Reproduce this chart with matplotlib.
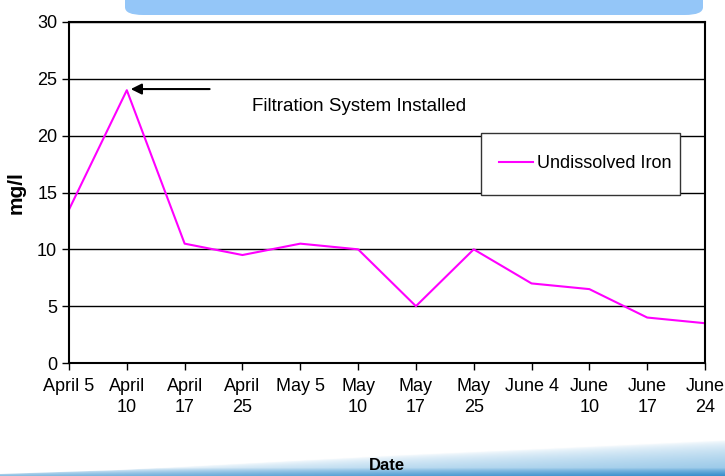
import numpy as np
import matplotlib.pyplot as plt
from matplotlib.patches import FancyBboxPatch, Polygon, Rectangle

plt.rcParams['font.family'] = ['Liberation Sans', 'DejaVu Sans']

dates = ['April 5', 'April\n10', 'April\n17', 'April\n25', 'May 5', 'May\n10',
         'May\n17', 'May\n25', 'June 4', 'June\n10', 'June\n17', 'June\n24']
iron = [13.5, 24, 10.5, 9.5, 10.5, 10, 5, 10, 7, 6.5, 4, 3.5]
yticks = [0, 5, 10, 15, 20, 25, 30]

W, H = 725, 476
fig = plt.figure(figsize=(W / 100, H / 100), dpi=100)

# light blue title box at the top (cut off)
fig.patches.append(FancyBboxPatch((125 / W, 1 - 15 / H), 578 / W, 40 / H,
                                  boxstyle='round,pad=0,rounding_size=0.025',
                                  transform=fig.transFigure, facecolor='#94c6f8',
                                  edgecolor='none', mutation_aspect=H / W))

# bottom gradient band
BH = 38
bg = fig.add_axes([0, 0, 1, BH / H])
bg.set_xlim(0, W)
bg.set_ylim(0, BH)
bg.axis('off')
gx = np.linspace(0, W, 363)
gy = np.linspace(0, BH, 76)
X, Y = np.meshgrid(gx, gy)
edge_x = [0, 120, 250, 400, 555, 725]
edge_y = [2, 6, 13, 21, 28, 36]
edge = np.interp(X, edge_x, edge_y)
d = np.clip(1 - Y / edge, 0, 1)
hx = X / W
blue = np.array([0.55, 0.76, 0.90])
deep = np.array([0.22, 0.56, 0.80])
mix = (d ** 0.6 * (0.55 + 0.45 * hx))[..., None]
col = (1 - mix) * 1.0 + mix * blue
low = (np.clip(1 - Y / 8, 0, 1) ** 0.8 * (0.4 + 0.6 * hx))[..., None]
col = (1 - low) * col + low * deep
img = np.dstack([col, np.ones(X.shape)])
im = bg.imshow(img, extent=[0, W, 0, BH], origin='lower', aspect='auto')
ex = np.linspace(0, W, 60)
ey = np.interp(ex, edge_x, edge_y)
clip = Polygon(np.column_stack([np.r_[ex, W, 0], np.r_[ey, 0, 0]]), closed=True,
               transform=bg.transData, facecolor='none', edgecolor='none')
bg.add_patch(clip)
im.set_clip_path(clip)

ax = fig.add_axes([69 / W, 1 - 363 / H, 636 / W, 341 / H])
x = np.arange(len(dates))
ax.plot(x, iron, color='#ff00ff', lw=1.5, label='Undissolved Iron')
ax.set_xlim(0, len(dates) - 1)
ax.set_ylim(0, 30)
ax.set_yticks(yticks)
ax.set_xticks(x)
ax.set_xticklabels(dates, linespacing=1.25, va='top')
ax.yaxis.grid(True, color='black', lw=1)
ax.set_axisbelow(True)
for s in ax.spines.values():
    s.set_linewidth(1.5)
ax.tick_params(axis='both', labelsize=13, direction='out', length=5, width=1)
ax.tick_params(axis='x', pad=6)
ax.set_ylabel('mg/l', fontsize=15, fontweight='bold', labelpad=8)
fig.text(387 / W, 1 - 466 / H, 'Date', fontsize=12, fontweight='bold',
         ha='center', va='center')

ax.annotate('', xy=(1.02, 24.1), xytext=(2.48, 24.1),
            arrowprops=dict(arrowstyle='-|>', color='black', lw=1.5, mutation_scale=16))
ax.text(3.17, 22.6, 'Filtration System Installed', fontsize=13.5, va='center')

# legend box
ax.add_patch(Rectangle((481 / W, 1 - 195 / H), 199 / W, 62 / H,
                       transform=fig.transFigure, facecolor='white',
                       edgecolor='#333333', lw=1, zorder=4, clip_on=False))
leg = ax.legend(loc='center left', bbox_to_anchor=(430 / 636, 1 - 142 / 341),
                fontsize=13, frameon=False, handlelength=1.9, handletextpad=0.2,
                borderpad=0, borderaxespad=0)
leg.set_zorder(5)

fig.savefig('out.png', dpi=100)
